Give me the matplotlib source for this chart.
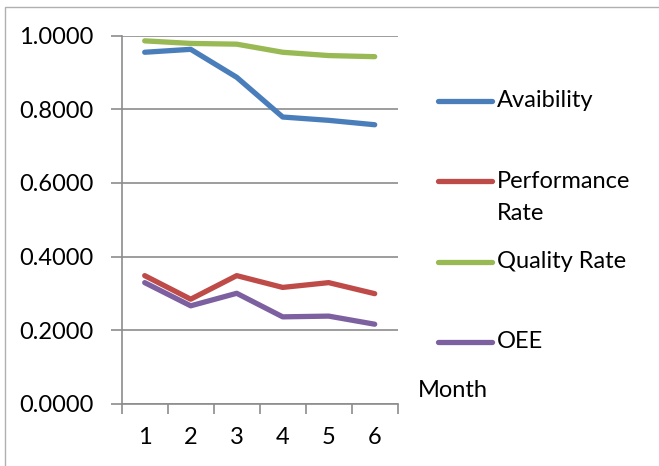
import matplotlib
matplotlib.use("Agg")
import matplotlib.pyplot as plt
from matplotlib.lines import Line2D
from matplotlib.patches import Rectangle

plt.rcParams['font.family'] = ['Lato', 'DejaVu Sans']

months = [1, 2, 3, 4, 5, 6]
availability = [0.955, 0.963, 0.887, 0.779, 0.770, 0.758]
performance_rate = [0.348, 0.284, 0.348, 0.316, 0.329, 0.299]
quality_rate = [0.986, 0.979, 0.977, 0.955, 0.946, 0.943]
oee = [0.329, 0.266, 0.300, 0.236, 0.238, 0.216]

series_names = ["Avaibility", "Performance\nRate", "Quality Rate", "OEE"]
series_values = [availability, performance_rate, quality_rate, oee]
series_colors = ["#4a7ebb", "#be4b48", "#98b954", "#7d60a0"]
y_ticks = [0.0, 0.2, 0.4, 0.6, 0.8, 1.0]

W, H = 659, 466
fig = plt.figure(figsize=(W / 100, H / 100), dpi=100)
ax = fig.add_axes([121.7 / W, 1 - 403.7 / H, 276 / W, 368 / H])

for vals, col in zip(series_values, series_colors):
    ax.plot(months, vals, color=col, lw=3.8, solid_capstyle='round',
            solid_joinstyle='round', zorder=3)

grid_col = "#8c8c8c"
ax.set_xlim(0.5, 6.5)
ax.set_ylim(0, 1.0)
ax.set_yticks(y_ticks)
ax.set_yticklabels([f"{v:.4f}" for v in y_ticks])
ax.set_xticks([m - 0.5 for m in months] + [6.5])
ax.set_xticklabels([])
ax.set_xticks(months, minor=True)
ax.set_xticklabels([str(m) for m in months], minor=True)
ax.tick_params(axis='x', which='major', length=7, width=1.2, color=grid_col, direction='out')
ax.tick_params(axis='x', which='minor', length=0, pad=17, labelsize=17)
ax.tick_params(axis='y', length=8, width=1.2, color=grid_col, direction='out',
               pad=12.5, labelsize=17)
ax.yaxis.grid(True, color=grid_col, lw=1.2, zorder=1)
ax.set_axisbelow(True)
for s in ('top', 'right'):
    ax.spines[s].set_visible(False)
for s in ('left', 'bottom'):
    ax.spines[s].set_color(grid_col)
    ax.spines[s].set_linewidth(1.2)

# legend drawn as line swatches with labels beside them
leg_y = [100.7, 181.3, 261.7, 342.0]
for name, col, y in zip(series_names, series_colors, leg_y):
    fy = 1 - y / H
    fig.add_artist(Line2D([438 / W, 492 / W], [fy, fy], color=col, lw=3.8,
                          solid_capstyle='round', transform=fig.transFigure))
    lines = name.split("\n")
    for i, t in enumerate(lines):
        fig.text(497 / W, 1 - (y + i * 32) / H, t, fontsize=17,
                 ha='left', va='center')

fig.text(418 / W, 1 - 390.7 / H, "Month", fontsize=17, ha='left', va='center')

fig.add_artist(Rectangle((4.5 / W, -0.05), 1.2, 1 - 7 / H + 0.05, fill=False,
                         edgecolor="#b0b0b0", lw=1.0, transform=fig.transFigure))

fig.savefig("out.png", dpi=100)
